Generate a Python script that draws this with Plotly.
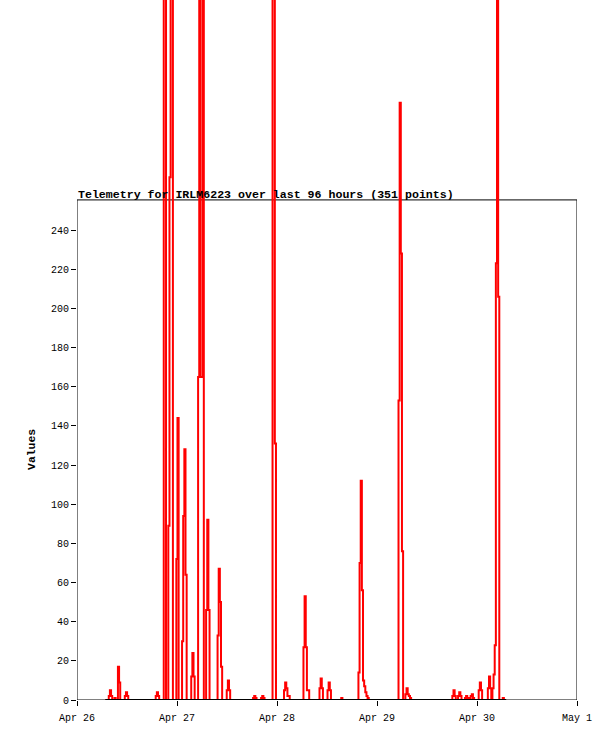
import pandas as pd
import plotly.graph_objects as go

# ---- data ----
series_start = "2024-04-26 06:48"
series_end = "2024-04-30 07:00"
n_points = 351

values = [
    0, 0, 0, 2, 5, 2, 0, 0, 1, 0,          # 0-9
    0, 17, 9, 0, 0, 0, 0, 2, 4, 2,         # 10-19
    0, 0, 0, 0, 0, 0, 0, 0, 0, 0,          # 20-29
    0, 0, 0, 0, 0, 0, 0, 0, 0, 0,          # 30-39
    0, 0, 0, 0, 2, 4, 2, 0, 0, 0,          # 40-49
    0, 412, 398, 0, 0, 89, 267, 436, 421, 0,   # 50-59
    0, 0, 72, 144, 0, 0, 0, 30, 94, 128,   # 60-69
    64, 0, 0, 0, 0, 12, 24, 12, 0, 0,      # 70-79
    0, 165, 447, 165, 165, 402, 0, 0, 46, 92,  # 80-89
    46, 0, 0, 0, 0, 0, 0, 0, 33, 67,       # 90-99
    50, 17, 0, 0, 0, 0, 5, 10, 5, 0,       # 100-109
    0, 0, 0, 0, 0, 0, 0, 0, 0, 0,          # 110-119
    0, 0, 0, 0, 0, 0, 0, 0, 0, 1,          # 120-129
    2, 1, 0, 0, 0, 0, 1, 2, 1, 0,          # 130-139
    0, 0, 0, 0, 0, 0, 455, 430, 131, 0,    # 140-149
    0, 0, 0, 0, 0, 0, 5, 9, 6, 2,          # 150-159
    2, 0, 0, 0, 0, 0, 0, 0, 0, 0,          # 160-169
    0, 0, 0, 27, 53, 27, 5, 5, 0, 0,       # 170-179
    0, 0, 0, 0, 0, 0, 0, 6, 11, 6,         # 180-189
    0, 0, 0, 0, 5, 9, 5, 0, 0, 0,          # 190-199
    0, 0, 0, 0, 0, 0, 1, 0, 0, 0,          # 200-209
    0, 0, 0, 0, 0, 0, 0, 0, 0, 0,          # 210-219
    0, 14, 70, 112, 56, 10, 7, 4, 2, 1,    # 220-229
    0, 0, 0, 0, 0, 0, 0, 0, 0, 0,          # 230-239
    0, 0, 0, 0, 0, 0, 0, 0, 0, 0,          # 240-249
    0, 0, 0, 0, 0, 0, 153, 305, 228, 76,   # 250-259
    0, 0, 3, 6, 3, 2, 1, 0, 0, 0,          # 260-269
    0, 0, 0, 0, 0, 0, 0, 0, 0, 0,          # 270-279
    0, 0, 0, 0, 0, 0, 0, 0, 0, 0,          # 280-289
    0, 0, 0, 0, 0, 0, 0, 0, 0, 0,          # 290-299
    0, 0, 0, 2, 5, 2, 0, 0, 2, 4,          # 300-309
    2, 0, 0, 0, 1, 2, 1, 0, 1, 2,          # 310-319
    3, 1, 0, 0, 0, 0, 5, 9, 5, 0,          # 320-329
    0, 0, 0, 0, 6, 12, 6, 0, 6, 13,        # 330-339
    28, 223, 472, 206, 0, 0, 0, 1, 0, 0,   # 340-349
    0,                                     # 350
]

x_tick_vals = ["2024-04-26", "2024-04-27", "2024-04-28", "2024-04-29", "2024-04-30", "2024-05-01"]
x_tick_text = ["Apr 26", "Apr 27", "Apr 28", "Apr 29", "Apr 30", "May 1"]
y_tick_vals = [0, 20, 40, 60, 80, 100, 120, 140, 160, 180, 200, 220, 240]

title_text = "Telemetry for IRLM6223 over last 96 hours (351 points)"
y_title = "Values"

# ---- figure ----
times = pd.date_range(series_start, series_end, periods=n_points)
x_range = [x_tick_vals[0], x_tick_vals[-1]]
frame_top = 255.4
y_top = 357.5

mono = "Liberation Mono, DejaVu Sans Mono, monospace"

fig = go.Figure()
fig.add_trace(go.Scatter(
    x=times, y=values, mode="lines",
    line=dict(color="#ff0000", width=2, shape="hv"),
    showlegend=False, hoverinfo="skip",
))
fig.add_trace(go.Scatter(
    x=[times[0], times[-1]], y=[0, 0], mode="lines",
    line=dict(color="#000000", width=2),
    showlegend=False, hoverinfo="skip",
))

fig.add_shape(type="rect", xref="x", yref="y",
              x0=x_range[0], x1=x_range[1], y0=0, y1=frame_top,
              line=dict(color="#000000", width=1), layer="below")

fig.add_annotation(text="<b>" + title_text + "</b>", xref="x", yref="y",
                   x=x_range[0], y=frame_top, xanchor="left", yanchor="bottom",
                   showarrow=False, font=dict(family=mono, size=11.6, color="#000000"),
                   xshift=-1, yshift=-3)
fig.add_annotation(text="<b>" + y_title + "</b>", xref="paper", yref="y",
                   x=0, y=frame_top / 2, xanchor="center", yanchor="middle",
                   textangle=-90, showarrow=False, xshift=-45,
                   font=dict(family=mono, size=11.4, color="#000000"))

fig.update_layout(
    width=615, height=741,
    margin=dict(l=77, r=38, t=0, b=41, pad=0),
    paper_bgcolor="white", plot_bgcolor="white",
    xaxis=dict(type="date", range=x_range, tickvals=x_tick_vals, ticktext=x_tick_text,
               ticks="outside", ticklen=5, tickcolor="#000000", tickwidth=1,
               ticklabelstandoff=3,
               showgrid=False, zeroline=False, showline=False,
               tickfont=dict(family=mono, size=10, color="#000000")),
    yaxis=dict(range=[0, y_top], tickvals=y_tick_vals,
               ticks="outside", ticklen=5, tickcolor="#000000", tickwidth=1,
               showgrid=False, zeroline=False, showline=False,
               tickfont=dict(family=mono, size=10, color="#000000")),
)

fig.write_html("out.html", config={"displayModeBar": False},
               post_script="document.body.style.margin='0';document.body.style.padding='0';")
